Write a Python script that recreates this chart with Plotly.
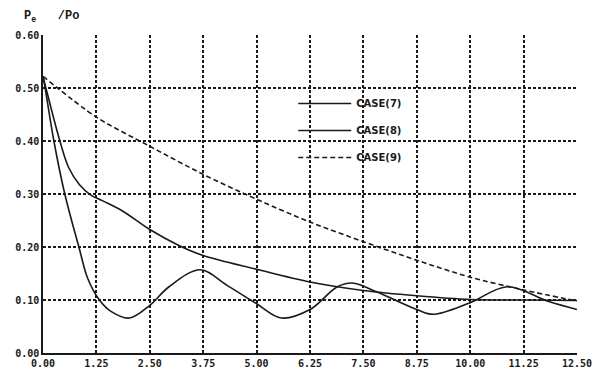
import plotly.graph_objects as go

# ---- data ----
case9_x = [0, 1.25, 2.5, 3.75, 5.0, 6.25, 7.5, 8.75, 10.0, 11.25, 12.5]
case9_y = [0.522, 0.445, 0.390, 0.337, 0.290, 0.247, 0.210, 0.175, 0.143, 0.119, 0.098]

case7_x = [0, 0.1, 0.395, 0.6, 0.85, 1.12, 1.4, 1.86, 2.5, 3.18, 3.75, 5.0, 6.25, 7.5, 8.75, 10.0, 11.25, 12.5]
case7_y = [0.522, 0.49, 0.40, 0.350, 0.318, 0.298, 0.287, 0.268, 0.233, 0.203, 0.184, 0.158, 0.134, 0.118, 0.108, 0.101, 0.100, 0.099]

case8_x = [0, 0.05, 0.255, 0.51, 0.84, 1.05, 1.32, 1.6, 2.02, 2.5, 2.95, 3.68, 4.3, 5.0, 5.58, 6.25,
           6.89, 7.24, 7.82, 8.75, 9.13, 10.0, 10.87, 11.84, 12.5]
case8_y = [0.522, 0.50, 0.40, 0.30, 0.20, 0.140, 0.100, 0.078, 0.066, 0.090, 0.125, 0.157, 0.128,
           0.093, 0.066, 0.082, 0.125, 0.132, 0.115, 0.082, 0.073, 0.095, 0.125, 0.097, 0.082]

x_ticks = [0, 1.25, 2.5, 3.75, 5.0, 6.25, 7.5, 8.75, 10.0, 11.25, 12.5]
x_ticktext = ["0.00", "1.25", "2.50", "3.75", "5.00", "6.25", "7.50", "8.75", "10.00", "11.25", "12.50"]
y_ticks = [0.0, 0.1, 0.2, 0.3, 0.4, 0.5, 0.6]
y_ticktext = ["0.00", "0.10", "0.20", "0.30", "0.40", "0.50", "0.60"]

names = ["CASE(7)", "CASE(8)", "CASE(9)"]

INK = "#1a1a1a"
tick_font = dict(family="DejaVu Sans Mono", size=10, color=INK, weight="bold")

fig = go.Figure()
fig.add_trace(go.Scatter(x=case7_x, y=case7_y, name=names[0], mode="lines", legendgroup="a",
                         line=dict(color=INK, width=1.6, shape="spline", smoothing=1.0)))
fig.add_trace(go.Scatter(x=case8_x, y=case8_y, name=names[1], mode="lines", legendgroup="b",
                         line=dict(color=INK, width=1.6, shape="spline", smoothing=1.0)))
fig.add_trace(go.Scatter(x=case9_x, y=case9_y, name=names[2], mode="lines", legendgroup="c",
                         line=dict(color=INK, width=1.6, dash="5px,3px", shape="spline", smoothing=0.8)))

fig.update_layout(
    width=604, height=381,
    margin=dict(l=43, r=23, t=35, b=24),
    paper_bgcolor="white", plot_bgcolor="white",
    showlegend=True,
    legend=dict(x=0.4686, y=0.83, xanchor="left", yanchor="top", bgcolor="rgba(0,0,0,0)",
                font=dict(family="DejaVu Sans", size=10, color=INK, weight="bold"),
                itemwidth=53, tracegroupgap=8),
    xaxis=dict(range=[0, 12.5], tickvals=x_ticks, ticktext=x_ticktext, tickfont=tick_font,
               showgrid=True, gridcolor=INK, gridwidth=1.5, griddash="3px,2px",
               showline=True, linecolor=INK, linewidth=1.5, ticks="", zeroline=False),
    yaxis=dict(range=[0, 0.6], tickvals=y_ticks, ticktext=y_ticktext, tickfont=tick_font,
               showgrid=True, gridcolor=INK, gridwidth=1.5, griddash="3px,2px",
               showline=True, linecolor=INK, linewidth=1.5, ticks="", zeroline=False),
    annotations=[dict(text="P<sub>e</sub>   /Po", xref="paper", yref="paper", x=-0.04, y=1.0,
                      yshift=8, xanchor="left", yanchor="bottom", showarrow=False,
                      font=dict(family="Liberation Mono", size=12, color=INK, weight="bold"))],
)

fig.write_html("out.html")
